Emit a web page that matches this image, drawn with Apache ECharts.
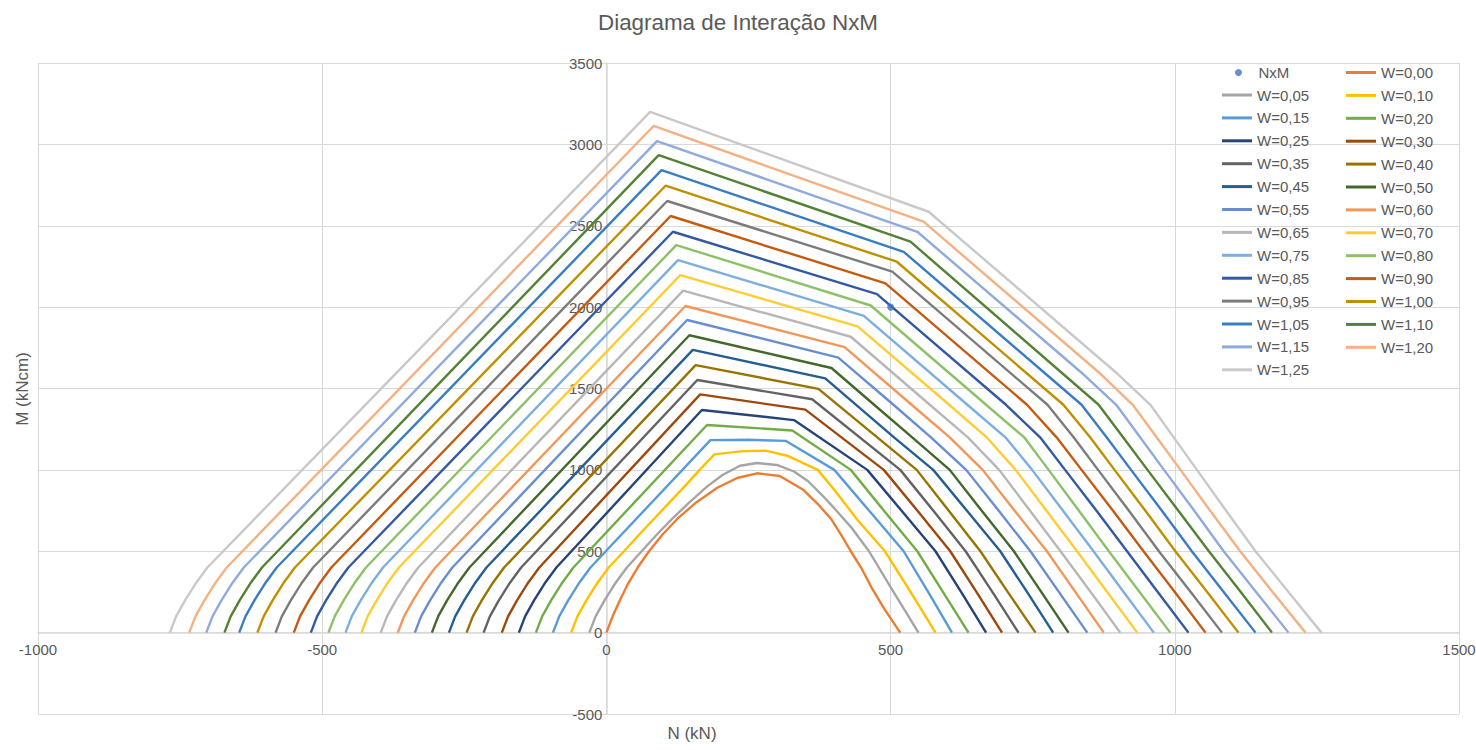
<!DOCTYPE html>
<html>
<head>
<meta charset="utf-8">
<title>Diagrama de Interação NxM</title>
<script src="https://cdn.jsdelivr.net/npm/echarts/dist/echarts.min.js"></script>
<style>
  html, body { margin: 0; padding: 0; background: #ffffff; }
  #chart { width: 1476px; height: 750px; }
</style>
</head>
<body>
<div id="chart"></div>
<script>
// Axis ranges and tick step (N in kN, M in kNcm)
const xRange = [-1000, 1500];
const yRange = [-500, 3500];
const tickStep = 500;

// Design point
const NxM = [[500, 2000]];

// Interaction curves [N, M], one per mechanical ratio W
const W000 = [[0,0],[11,100],[24,200],[38,300],[55,400],[75,500],[98,600],[125,700],[158,800],[195,890],[230,950],[265,979],[305,962],[347,876],[372,790],[395,700],[413,600],[430,500],[448,400],[466,280],[490,140],[517,0]];
const W005 = [[-30,0],[-19,100],[-3,200],[15,300],[36,400],[62,500],[88,600],[116,700],[146,800],[178,900],[205,970],[235,1025],[265,1042],[300,1030],[330,990],[355,930],[378,850],[402,760],[430,650],[462,500],[500,280],[549,0]];
const W010 = [[-62,0],[-51,100],[-35,200],[-17,300],[4,400],[31,500],[57,600],[84,700],[111,800],[138,900],[164,1000],[190,1095],[240,1115],[280,1118],[320,1085],[372,1000],[405,860],[440,700],[490,500],[535,250],[579,0]];
const W015 = [[-94,0],[-83,100],[-67,200],[-49,300],[-28,400],[183,1183],[250,1185],[316,1178],[401,1000],[462,750],[523,500],[566,250],[608,0]];
const W020 = [[-124,0],[-113,100],[-97,200],[-79,300],[-58,400],[177,1276],[327,1242],[430,1000],[488,750],[547,500],[592,250],[637,0]];
const W025 = [[-154,0],[-143,100],[-127,200],[-109,300],[-88,400],[168,1368],[330,1306],[459,1000],[519,750],[579,500],[624,250],[668,0]];
const W030 = [[-184,0],[-173,100],[-157,200],[-139,300],[-118,400],[165,1464],[350,1370],[488,1000],[547,750],[605,500],[651,250],[696,0]];
const W035 = [[-216,0],[-205,100],[-189,200],[-171,300],[-150,400],[160,1552],[362,1434],[517,1000],[575,750],[632,500],[679,250],[725,0]];
const W040 = [[-246,0],[-235,100],[-219,200],[-201,300],[-180,400],[157,1644],[373,1498],[546,1000],[602,750],[658,500],[706,250],[755,0]];
const W045 = [[-277,0],[-266,100],[-250,200],[-232,300],[-211,400],[152,1737],[385,1562],[506,1200],[575,1000],[634,750],[693,500],[740,250],[786,0]];
const W050 = [[-307,0],[-296,100],[-280,200],[-262,300],[-241,400],[146,1827],[396,1626],[471,1400],[538,1200],[604,1000],[660,750],[717,500],[765,250],[813,0]];
const W055 = [[-337,0],[-326,100],[-310,200],[-292,300],[-271,400],[142,1921],[408,1690],[505,1400],[571,1200],[633,1000],[690,750],[746,500],[796,250],[846,0]];
const W060 = [[-367,0],[-356,100],[-340,200],[-322,300],[-301,400],[139,2007],[419,1754],[537,1400],[604,1200],[662,1000],[718,750],[775,500],[825,250],[875,0]];
const W065 = [[-397,0],[-386,100],[-370,200],[-352,300],[-331,400],[135,2101],[430,1818],[569,1400],[636,1200],[691,1000],[745,750],[799,500],[852,250],[904,0]];
const W070 = [[-431,0],[-420,100],[-404,200],[-386,300],[-365,400],[130,2197],[442,1882],[603,1400],[669,1200],[720,1000],[774,750],[828,500],[881,250],[934,0]];
const W075 = [[-459,0],[-448,100],[-432,200],[-414,300],[-393,400],[126,2289],[453,1946],[635,1400],[702,1200],[749,1000],[803,750],[857,500],[910,250],[963,0]];
const W080 = [[-489,0],[-478,100],[-462,200],[-444,300],[-423,400],[123,2381],[465,2010],[668,1400],[735,1200],[778,1000],[831,750],[884,500],[938,250],[992,0]];
const W085 = [[-520,0],[-509,100],[-493,200],[-475,300],[-454,400],[117,2463],[476,2080],[703,1400],[763,1200],[807,1000],[862,750],[916,500],[970,250],[1024,0]];
const W090 = [[-550,0],[-539,100],[-523,200],[-505,300],[-484,400],[113,2560],[491,2146],[740,1400],[792,1200],[836,1000],[891,750],[945,500],[1000,250],[1054,0]];
const W095 = [[-582,0],[-571,100],[-555,200],[-537,300],[-516,400],[107,2652],[503,2218],[776,1400],[822,1200],[865,1000],[919,750],[972,500],[1028,250],[1083,0]];
const W100 = [[-614,0],[-603,100],[-587,200],[-569,300],[-548,400],[104,2746],[511,2279],[804,1400],[851,1200],[894,1000],[948,750],[1001,500],[1057,250],[1112,0]];
const W105 = [[-646,0],[-635,100],[-619,200],[-601,300],[-580,400],[97,2842],[523,2340],[836,1400],[880,1200],[923,1000],[977,750],[1030,500],[1086,250],[1142,0]];
const W110 = [[-672,0],[-661,100],[-645,200],[-627,300],[-606,400],[92,2934],[535,2402],[866,1400],[909,1200],[952,1000],[1006,750],[1060,500],[1116,250],[1171,0]];
const W115 = [[-704,0],[-693,100],[-677,200],[-659,300],[-638,400],[89,3020],[547,2463],[835,1600],[897,1400],[939,1200],[981,1000],[1034,750],[1086,500],[1143,250],[1200,0]];
const W120 = [[-734,0],[-723,100],[-707,200],[-689,300],[-668,400],[83,3113],[558,2525],[866,1600],[926,1400],[968,1200],[1010,1000],[1062,750],[1115,500],[1172,250],[1230,0]];
const W125 = [[-768,0],[-757,100],[-741,200],[-723,300],[-702,400],[77,3200],[567,2586],[896,1600],[957,1400],[998,1200],[1039,1000],[1090,750],[1142,500],[1200,250],[1258,0]];

const curves = [W000, W005, W010, W015, W020, W025, W030, W035, W040, W045, W050, W055, W060,
                W065, W070, W075, W080, W085, W090, W095, W100, W105, W110, W115, W120, W125];
const curveNames = ['W=0,00','W=0,05','W=0,10','W=0,15','W=0,20','W=0,25','W=0,30','W=0,35','W=0,40',
                    'W=0,45','W=0,50','W=0,55','W=0,60','W=0,65','W=0,70','W=0,75','W=0,80','W=0,85',
                    'W=0,90','W=0,95','W=1,00','W=1,05','W=1,10','W=1,15','W=1,20','W=1,25'];
const curveColors = ['#ED7D31','#A5A5A5','#FFC000','#5B9BD5','#70AD47','#264478','#9E480E','#636363','#997300',
                     '#255E91','#43682B','#698ED0','#F1975A','#B7B7B7','#FFCD33','#7CAFDD','#8CC168','#335AA1',
                     '#C55A11','#7C7C7C','#BF9000','#3A7DC0','#548235','#8FAADC','#F4B183','#C9C9C9'];
const pointColor = '#4472C4';

const FONT = 'Liberation Sans, Arial, sans-serif';
const TEXT = '#595959';
const GRID = '#D9D9D9';

// Plot rectangle, and where the zero lines fall inside it
const W = 1476, H = 750;
const plot = { left: 38, right: 17, top: 63, bottom: 36 };
const plotW = W - plot.left - plot.right;
const plotH = H - plot.top - plot.bottom;
const zeroX = plot.left + plotW * (0 - xRange[0]) / (xRange[1] - xRange[0]);
const zeroY = plot.top + plotH * (yRange[1] - 0) / (yRange[1] - yRange[0]);

const chart = echarts.init(document.getElementById('chart'), null, { renderer: 'svg' });

const series = [{
  type: 'scatter', name: 'NxM', data: NxM, symbol: 'circle', symbolSize: 7,
  itemStyle: { color: pointColor }, z: 5, emphasis: { disabled: true }
}].concat(curves.map((d, k) => ({
  type: 'line', name: curveNames[k], data: d, symbol: 'none', showSymbol: false, smooth: false,
  lineStyle: { width: 2.4, color: curveColors[k] }, itemStyle: { color: curveColors[k] },
  emphasis: { disabled: true }, z: 2
})));

// Legend laid out in two columns, row by row: NxM, W=0,00 / W=0,05, W=0,10 / ...
const allNames = ['NxM'].concat(curveNames);
const leftCol = allNames.filter((n, k) => k % 2 === 0).slice(1);
const rightCol = allNames.filter((n, k) => k % 2 === 1);

const legendText = { fontSize: 15, color: TEXT, fontFamily: FONT, lineHeight: 14 };
const lineLegend = {
  orient: 'vertical', icon: 'rect', itemWidth: 30, itemHeight: 3, itemGap: 7.9, padding: 0,
  selectedMode: false, textStyle: legendText
};

const num = v => String(v);

chart.setOption({
  animation: false,
  backgroundColor: '#ffffff',
  title: {
    text: 'Diagrama de Interação NxM', left: 'center', top: 6,
    textStyle: { fontSize: 22.4, fontWeight: 'normal', color: TEXT, fontFamily: FONT }
  },
  grid: { left: plot.left, right: plot.right, top: plot.top, bottom: plot.bottom, containLabel: false, outerBoundsMode: 'none' },
  xAxis: {
    type: 'value', min: xRange[0], max: xRange[1], interval: tickStep,
    position: 'bottom', offset: -(H - plot.bottom - zeroY),
    axisLine: { show: true, onZero: false, lineStyle: { color: GRID, width: 1.5 } },
    axisTick: { show: false },
    axisLabel: { fontSize: 15, color: TEXT, fontFamily: FONT, margin: 9, formatter: num, showMinLabel: true, showMaxLabel: true, hideOverlap: false },
    splitLine: { show: true, lineStyle: { color: GRID, width: 1 } }
  },
  yAxis: {
    type: 'value', min: yRange[0], max: yRange[1], interval: tickStep,
    position: 'left', offset: -(zeroX - plot.left),
    axisLine: { show: true, onZero: false, lineStyle: { color: GRID, width: 1.5 } },
    axisTick: { show: false },
    axisLabel: { fontSize: 15, color: TEXT, fontFamily: FONT, margin: 4, formatter: num, showMinLabel: true, showMaxLabel: true, hideOverlap: false },
    splitLine: { show: true, lineStyle: { color: GRID, width: 1 } }
  },
  legend: [
    { orient: 'vertical', icon: 'circle', itemWidth: 30, itemHeight: 7, padding: 0, selectedMode: false,
      left: 1235, top: 65, data: ['NxM'], textStyle: legendText },
    Object.assign({}, lineLegend, { left: 1222, top: 87.5, data: leftCol }),
    Object.assign({}, lineLegend, { left: 1346, top: 65, data: rightCol })
  ],
  graphic: [
    { type: 'text', x: 22, y: 389, rotation: Math.PI / 2,
      style: { text: 'M (kNcm)', fontSize: 17, fontFamily: FONT, fill: TEXT, align: 'center', verticalAlign: 'middle' } },
    { type: 'text', x: 692, y: 733,
      style: { text: 'N (kN)', fontSize: 17, fontFamily: FONT, fill: TEXT, align: 'center', verticalAlign: 'middle' } }
  ],
  series: series
});
</script>
</body>
</html>
